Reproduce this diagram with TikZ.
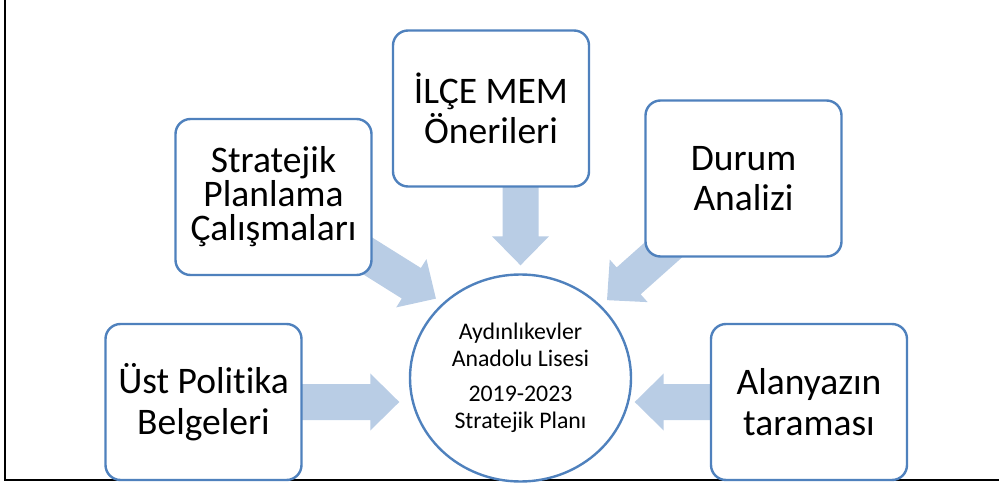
\documentclass[tikz,border=0pt]{standalone}
\usepackage{fontspec}
\setmainfont{Carlito}[Ligatures=NoCommon]
\usetikzlibrary{calc,shapes.geometric}
\definecolor{boxblue}{HTML}{4F81BD}
\definecolor{flowblue}{HTML}{B9CDE5}
\pgfdeclarelayer{bg}
\pgfsetlayers{bg,main}
\tikzset{
  srcbox/.style={draw=boxblue,line width=2.4pt,fill=white,rounded corners=15pt,
    minimum width=196pt,minimum height=156pt,align=center,
    font=\fontsize{37.5}{40.5}\selectfont},
  planbox/.style={ellipse,draw=boxblue,line width=2.4pt,fill=white,
    minimum width=221pt,minimum height=207pt,inner sep=0pt,align=center,
    font=\fontsize{23.8}{26.5}\selectfont},
  flow/.style={fill=flowblue}
}
% wide block arrow, from #1 to #2
\newcommand\blockarrow[2]{%
  \coordinate (ba-a) at (#1);
  \coordinate (ba-b) at (#2);
  \coordinate (ba-h) at ($(ba-b)!29pt!(ba-a)$);
  \fill[flow] ($(ba-a)!18pt!90:(ba-b)$) -- ($(ba-h)!18pt!90:(ba-b)$)
    -- ($(ba-h)!28.5pt!90:(ba-b)$) -- (ba-b) -- ($(ba-h)!28.5pt!-90:(ba-b)$)
    -- ($(ba-h)!18pt!-90:(ba-b)$) -- ($(ba-a)!18pt!-90:(ba-b)$) -- cycle;
}
\begin{document}
\begin{tikzpicture}[x=1pt,y=-1pt]
      \useasboundingbox (0,0) rectangle (999,486);
      \draw[line width=2.2pt] (5,0) -- (5,480) -- (999,480);
      \draw
        (520.5,378) node[planbox] (plan) {Aydınlıkevler\\Anadolu Lisesi\\[9pt]2019-2023\\Stratejik Planı}
        (203.5,402) node[srcbox] (ust) {Üst Politika\\Belgeleri}
        (273.5,197) node[srcbox,font=\fontsize{37.5}{34}\selectfont] (strat) {Stratejik\\Planlama\\Çalışmaları}
        (491,108.5) node[srcbox] (ilce) {İLÇE MEM\\Önerileri}
        (743.5,178.5) node[srcbox] (durum) {Durum\\Analizi}
        (809,402) node[srcbox] (ala) {Alanyazın\\taraması};
      \begin{pgfonlayer}{bg}
        \blockarrow{ust.center}{$(ust.center -| plan.west)+(-9.5,0)$}
        \blockarrow{strat.center}{$(plan.136)!8pt!(strat.center)$}
        \blockarrow{ilce.center -| plan.north}{$(plan.north)+(0,-8)$}
        \blockarrow{durum.center}{$(plan.42)!8pt!(durum.center)$}
        \blockarrow{ala.center}{$(ala.center -| plan.east)+(2.5,0)$}
      \end{pgfonlayer}
    \end{tikzpicture}
\end{document}
